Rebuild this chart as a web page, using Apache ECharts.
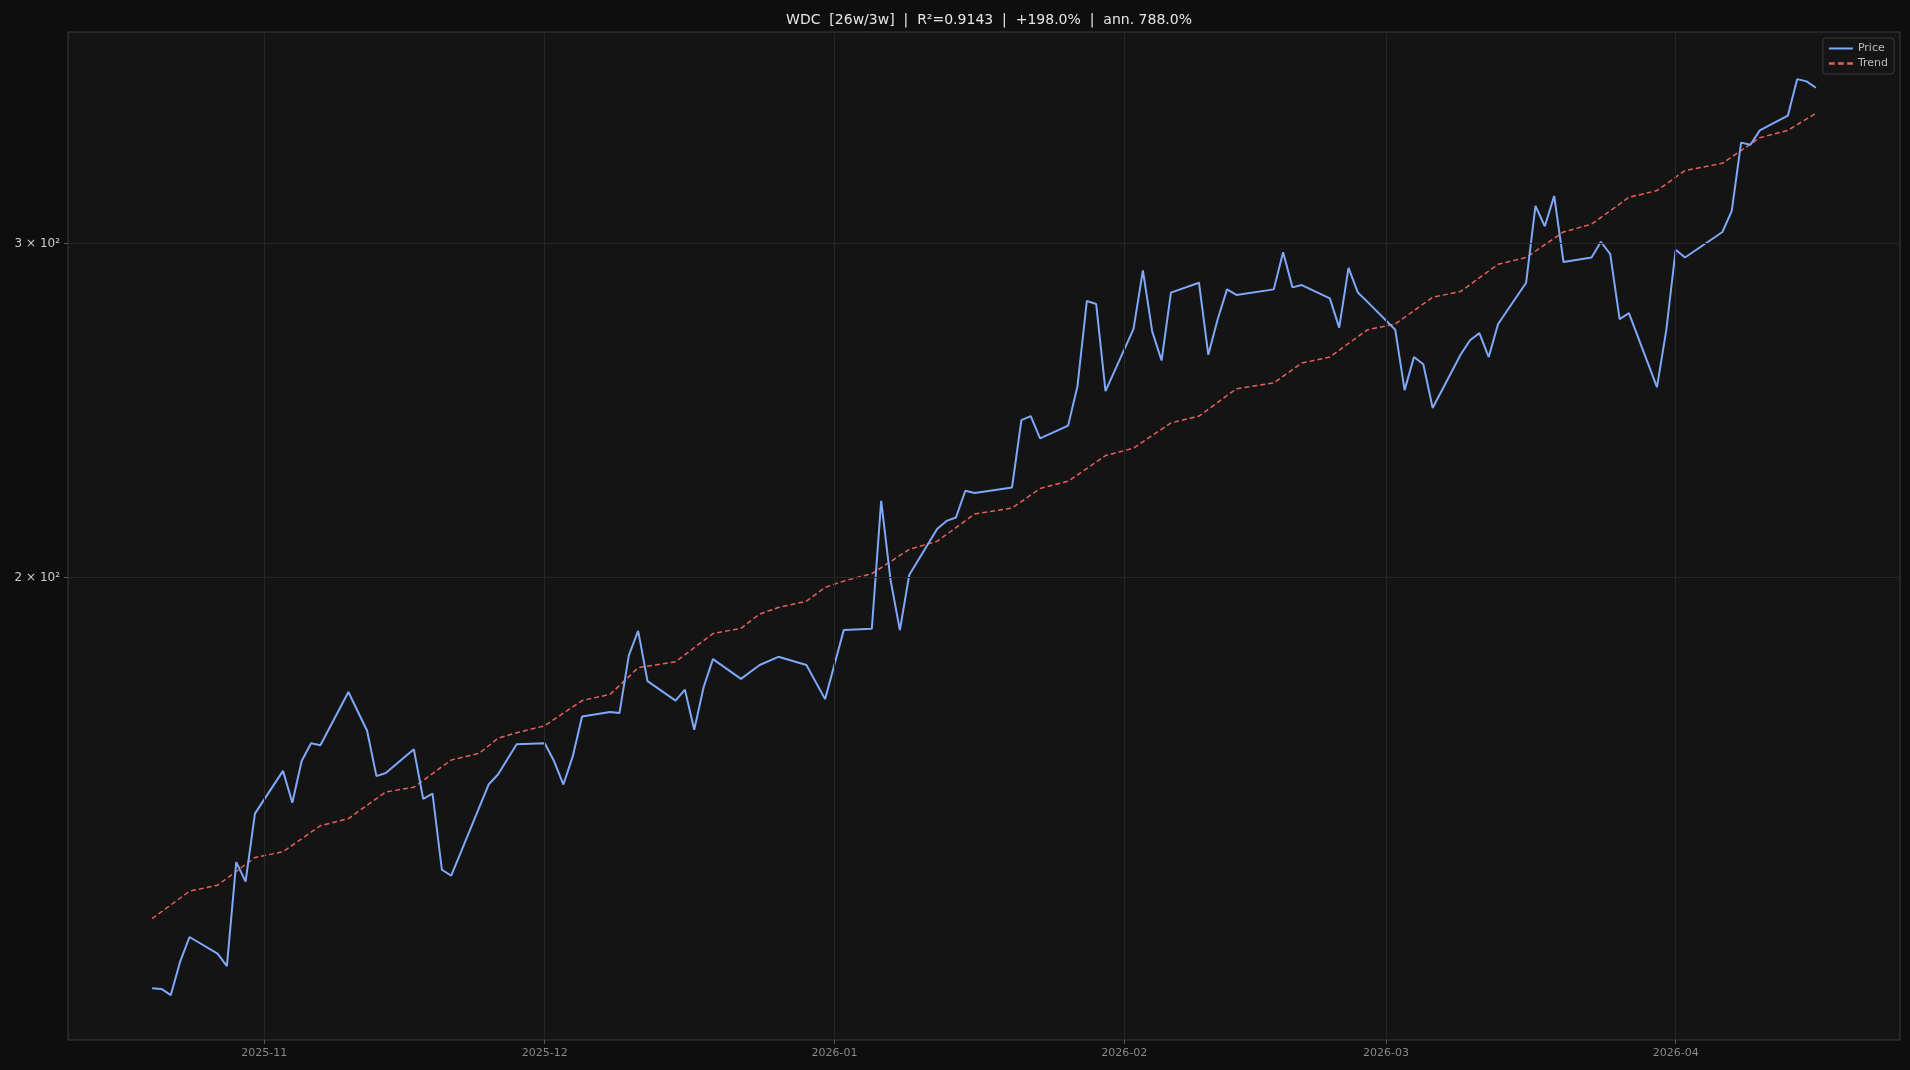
<!DOCTYPE html>
<html>
<head>
<meta charset="utf-8">
<script src="https://cdn.jsdelivr.net/npm/echarts@6/dist/echarts.min.js"></script>
<style>
  html, body { margin: 0; padding: 0; background: #0e0e0e; }
  #chart { width: 1910px; height: 1070px; }
</style>
</head>
<body>
<div id="chart"></div>
<script>
const priceDates = ['2025-10-20','2025-10-21','2025-10-22','2025-10-23','2025-10-24','2025-10-27','2025-10-28','2025-10-29','2025-10-30','2025-10-31',
  '2025-11-03','2025-11-04','2025-11-05','2025-11-06','2025-11-07','2025-11-10','2025-11-12','2025-11-13','2025-11-14',
  '2025-11-17','2025-11-18','2025-11-19','2025-11-20','2025-11-21','2025-11-25','2025-11-26','2025-11-28',
  '2025-12-01','2025-12-02','2025-12-03','2025-12-04','2025-12-05','2025-12-08','2025-12-09','2025-12-10','2025-12-11','2025-12-12',
  '2025-12-15','2025-12-16','2025-12-17','2025-12-18','2025-12-19','2025-12-22','2025-12-24','2025-12-26','2025-12-29','2025-12-31',
  '2026-01-02','2026-01-05','2026-01-06','2026-01-07','2026-01-08','2026-01-09','2026-01-12','2026-01-13','2026-01-14','2026-01-15','2026-01-16',
  '2026-01-20','2026-01-21','2026-01-22','2026-01-23','2026-01-26','2026-01-27','2026-01-28','2026-01-29','2026-01-30',
  '2026-02-02','2026-02-03','2026-02-04','2026-02-05','2026-02-06','2026-02-09','2026-02-10','2026-02-11','2026-02-12','2026-02-13',
  '2026-02-17','2026-02-18','2026-02-19','2026-02-20','2026-02-23','2026-02-24','2026-02-25','2026-02-26','2026-02-27',
  '2026-03-02','2026-03-03','2026-03-04','2026-03-05','2026-03-06','2026-03-09','2026-03-10','2026-03-11','2026-03-12','2026-03-13',
  '2026-03-16','2026-03-17','2026-03-18','2026-03-19','2026-03-20','2026-03-23','2026-03-24','2026-03-25','2026-03-26','2026-03-27',
  '2026-03-30','2026-03-31','2026-04-01','2026-04-02','2026-04-06','2026-04-07','2026-04-08','2026-04-09','2026-04-10',
  '2026-04-13','2026-04-14','2026-04-15','2026-04-16'];
const priceValues = [121.4,121.3,120.4,125.4,129.2,126.6,124.7,141.5,138.2,150.1,
  158.1,152.1,160.0,163.5,163.1,174.0,166.0,157.1,157.7,
  162.3,152.8,153.8,140.2,139.2,155.5,157.4,163.3,
  163.5,160.0,155.5,160.9,168.9,169.8,169.6,181.9,187.4,176.3,
  172.2,174.5,166.2,175.0,181.1,176.8,179.8,181.6,179.8,172.5,
  187.6,187.9,219.5,199.4,187.6,200.6,212.2,214.2,215.1,222.2,221.6,
  223.1,242.1,243.3,236.8,240.5,252.3,279.8,278.8,250.8,
  270.5,290.4,269.6,260.3,282.7,286.1,262.1,273.7,283.8,281.9,
  283.8,296.9,284.5,285.3,280.7,270.9,291.3,282.7,279.6,
  270.2,251.1,261.4,259.1,245.7,262.2,266.8,269.1,261.4,272.1,
  286.1,314.1,306.4,317.9,293.4,295.0,300.7,296.2,273.7,275.7,
  252.0,270.2,297.8,295.0,304.3,312.2,339.2,338.3,344.3,
  350.5,366.4,365.4,362.6];

const trendDates = ['2025-10-20','2025-10-24','2025-10-27','2025-10-31','2025-11-03','2025-11-07','2025-11-10','2025-11-14','2025-11-17','2025-11-21',
  '2025-11-24','2025-11-26','2025-11-28','2025-12-01','2025-12-05','2025-12-08','2025-12-11','2025-12-15','2025-12-19','2025-12-22',
  '2025-12-24','2025-12-26','2025-12-29','2025-12-31','2026-01-02','2026-01-05','2026-01-09','2026-01-12','2026-01-16','2026-01-20',
  '2026-01-23','2026-01-26','2026-01-30','2026-02-02','2026-02-06','2026-02-09','2026-02-13','2026-02-17','2026-02-20','2026-02-23',
  '2026-02-27','2026-03-02','2026-03-06','2026-03-09','2026-03-13','2026-03-16','2026-03-20','2026-03-23','2026-03-27','2026-03-30',
  '2026-04-02','2026-04-06','2026-04-10','2026-04-13','2026-04-16'];
const trendValues = [132.1,136.6,137.6,142.3,143.3,147.9,149.2,154.1,155.0,160.2,
  161.5,164.5,165.6,167.0,172.2,173.5,179.2,180.5,186.8,188.0,
  191.3,192.8,194.3,197.6,199.1,200.9,206.9,209.0,216.0,217.6,
  222.8,224.8,231.9,234.0,241.3,243.3,251.5,253.3,259.5,261.4,
  270.2,272.1,281.1,283.1,292.6,295.0,304.3,307.2,317.4,320.0,
  327.9,330.8,341.2,344.3,351.5];

const monthTicks = ['2025-11-01','2025-12-01','2026-01-01','2026-02-01','2026-03-01','2026-04-01'];
const yTicks = [200, 300];
const yTickLabels = ['2 × 10²', '3 × 10²'];

const chart = echarts.init(document.getElementById('chart'));
const ts = d => new Date(d + 'T00:00:00Z').getTime();
const pad2 = n => String(n).padStart(2, '0');

const option = {
  backgroundColor: '#0e0e0e',
  animation: false,
  title: {
    text: 'WDC  [26w/3w]  |  R²=0.9143  |  +198.0%  |  ann. 788.0%',
    left: 984, top: 8, textAlign: 'center',
    textStyle: { color: '#e6e6e6', fontSize: 14, fontWeight: 'normal', fontFamily: 'DejaVu Sans' }
  },
  legend: {
    right: 16, top: 38, orient: 'vertical', itemGap: 4,
    backgroundColor: '#151515', borderColor: '#3a3a3a', borderWidth: 1, borderRadius: 3,
    padding: [5, 6], itemWidth: 24, itemHeight: 8,
    textStyle: { color: '#bbbbbb', fontSize: 11, fontFamily: 'DejaVu Sans' },
    data: [{ name: 'Price', icon: 'path://M0,4 L24,4 L24,6 L0,6 Z' },
           { name: 'Trend', icon: 'path://M0,4 L5,4 L5,6 L0,6 Z M8,4 L13,4 L13,6 L8,6 Z M16,4 L21,4 L21,6 L16,6 Z' }]
  },
  grid: { left: 68, right: 10, top: 32, bottom: 30, show: true, backgroundColor: '#141414', borderColor: '#3a3a3a', borderWidth: 1 },
  xAxis: {
    type: 'value',
    min: ts('2025-10-11'), max: ts('2026-04-25'),
    axisLine: { show: false },
    axisTick: { show: true, customValues: monthTicks.map(ts), lineStyle: { color: '#555' }, length: 4 },
    axisLabel: {
      customValues: monthTicks.map(ts), color: '#888', fontSize: 11, fontFamily: 'DejaVu Sans',
      formatter: v => { const d = new Date(v); return d.getUTCFullYear() + '-' + pad2(d.getUTCMonth() + 1); }
    },
    splitLine: { show: false }
  },
  yAxis: {
    type: 'log', logBase: 10, min: 114, max: 388,
    axisLine: { show: false },
    axisTick: { show: true, customValues: yTicks, lineStyle: { color: '#555' }, length: 4 },
    axisLabel: {
      customValues: yTicks, color: '#cccccc', fontSize: 12, fontFamily: 'DejaVu Sans',
      formatter: v => yTickLabels[yTicks.indexOf(Math.round(v))] || ''
    },
    splitLine: { show: false }
  },
  series: [
    {
      name: 'Price', type: 'line', showSymbol: false,
      data: priceDates.map((d, i) => [ts(d), priceValues[i]]),
      lineStyle: { color: '#7fa8f8', width: 2 }, itemStyle: { color: '#7fa8f8' },
      markLine: {
        silent: true, symbol: 'none', label: { show: false },
        lineStyle: { color: '#262626', type: 'solid', width: 1 },
        data: yTicks.map(v => ({ yAxis: v })).concat(monthTicks.map(d => ({ xAxis: ts(d) })))
      },
      z: 3
    },
    {
      name: 'Trend', type: 'line', showSymbol: false,
      data: trendDates.map((d, i) => [ts(d), trendValues[i]]),
      lineStyle: { color: '#e8605c', width: 1.5, type: [5, 3] }, itemStyle: { color: '#e8605c' },
      z: 2
    }
  ]
};
chart.setOption(option);
window.addEventListener('resize', () => chart.resize());
</script>
</body>
</html>
